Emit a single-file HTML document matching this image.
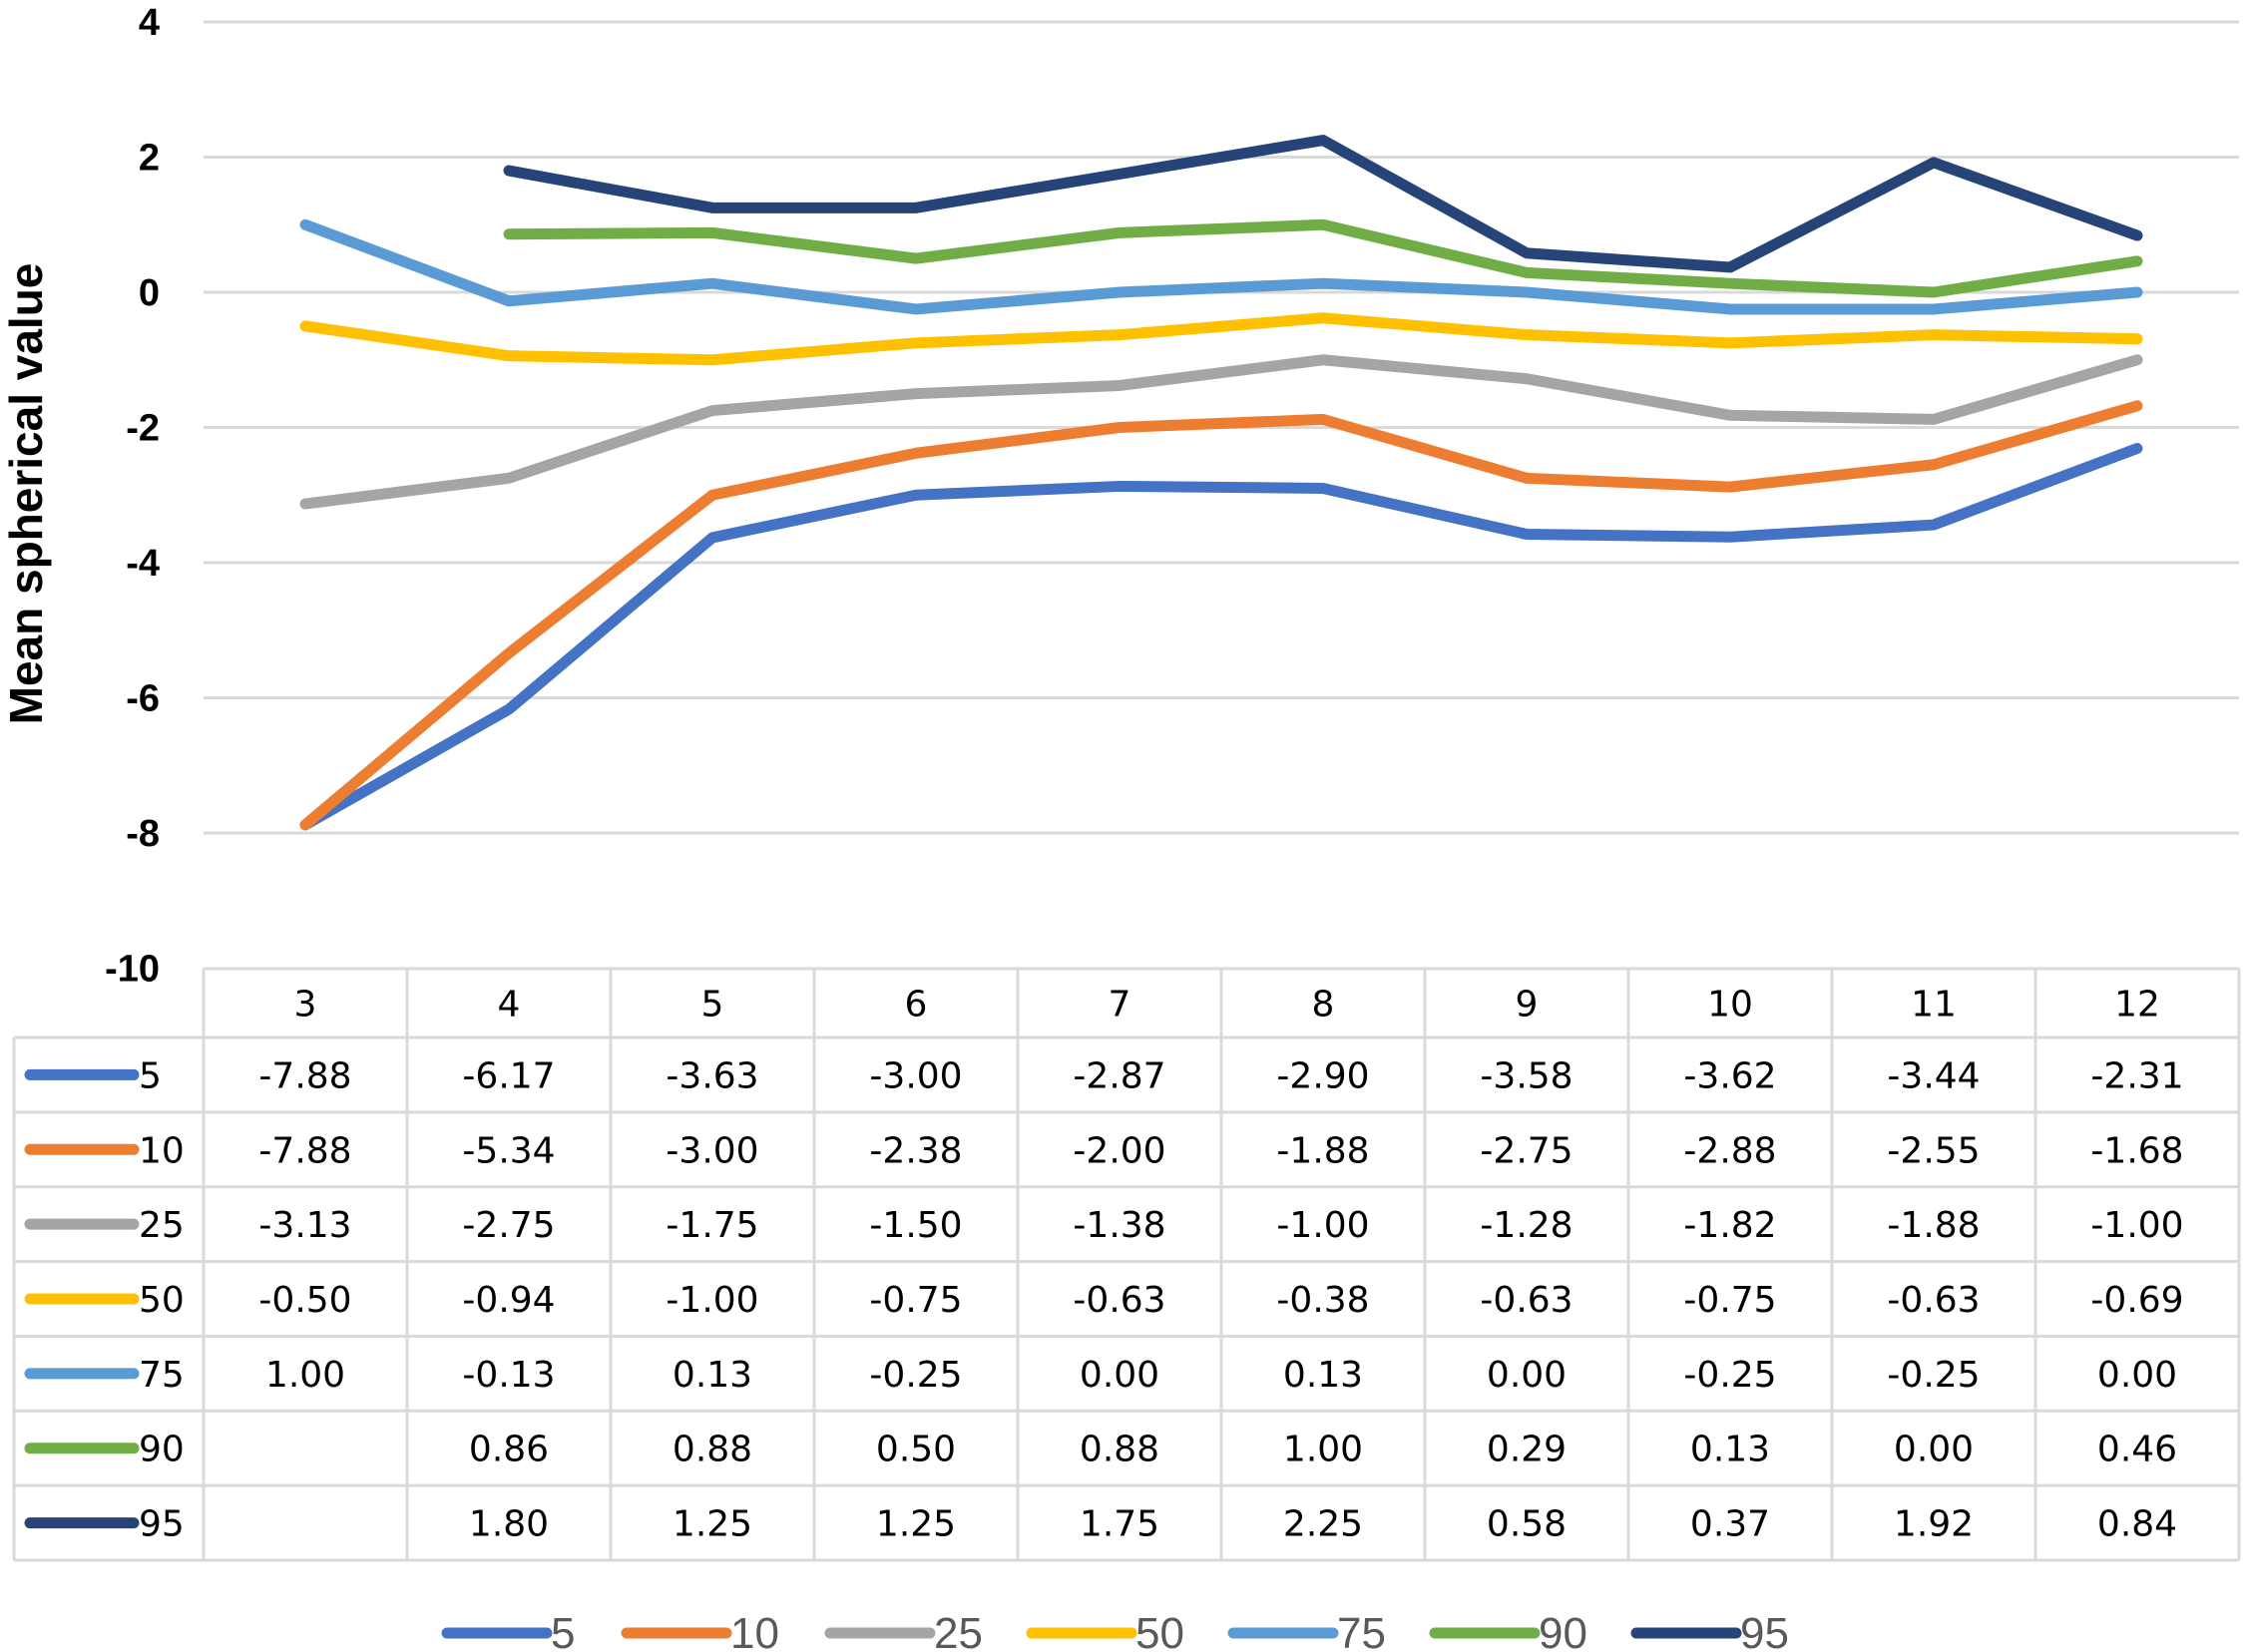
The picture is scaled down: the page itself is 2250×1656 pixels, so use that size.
<!DOCTYPE html>
<html><head><meta charset="utf-8"><style>
html,body{margin:0;padding:0;background:#fff;}
svg{display:block;}
</style></head><body>
<svg id="chart" width="2250" height="1656" viewBox="0 0 2250 1656" xmlns="http://www.w3.org/2000/svg">
<text x="0" y="0" transform="translate(42,495) rotate(-90)" text-anchor="middle" font-family="Liberation Sans, sans-serif" font-weight="bold" font-size="46" fill="#000">Mean spherical value</text>
<g id="grid"></g><g id="ylabels"></g><g id="series"></g><g id="table"></g><g id="legend"></g>
</svg>
<script>
const categories = ["3","4","5","6","7","8","9","10","11","12"];
const seriesNames = ["5","10","25","50","75","90","95"];
const colors = ["#4472C4","#ED7D31","#A5A5A5","#FFC000","#5B9BD5","#70AD47","#264478"];
const s5  = [-7.88,-6.17,-3.63,-3.00,-2.87,-2.90,-3.58,-3.62,-3.44,-2.31];
const s10 = [-7.88,-5.34,-3.00,-2.38,-2.00,-1.88,-2.75,-2.88,-2.55,-1.68];
const s25 = [-3.13,-2.75,-1.75,-1.50,-1.38,-1.00,-1.28,-1.82,-1.88,-1.00];
const s50 = [-0.50,-0.94,-1.00,-0.75,-0.63,-0.38,-0.63,-0.75,-0.63,-0.69];
const s75 = [1.00,-0.13,0.13,-0.25,0.00,0.13,0.00,-0.25,-0.25,0.00];
const s90 = [null,0.86,0.88,0.50,0.88,1.00,0.29,0.13,0.00,0.46];
const s95 = [null,1.80,1.25,1.25,1.75,2.25,0.58,0.37,1.92,0.84];
const yTicks = [4,2,0,-2,-4,-6,-8,-10];
const allSeries = [s5,s10,s25,s50,s75,s90,s95];

const NS="http://www.w3.org/2000/svg";
const colL=204, colW=204, plotR=2244;
function xPos(i){return colL+colW*(i+0.5);}
function yPos(v){return 293-v*67.75;}
function mk(tag,attrs,parent,txt){const e=document.createElementNS(NS,tag);for(const k in attrs)e.setAttribute(k,attrs[k]);if(txt!==undefined)e.textContent=txt;parent.appendChild(e);return e;}

const grid=document.getElementById('grid'), yl=document.getElementById('ylabels');
yTicks.forEach(t=>{
  if(t>-10){
    const l=mk('line',{x1:colL,x2:plotR,y1:yPos(t),y2:yPos(t),stroke:'#d9d9d9','stroke-width':3},grid);
    
    
  }
  const tx=mk('text',{x:160,y:yPos(t)+13,'text-anchor':'end','font-family':'Liberation Sans, sans-serif','font-weight':'bold','font-size':38,fill:'#000'},yl,String(t));
  
  
});

const sg=document.getElementById('series');
allSeries.forEach((s,k)=>{
  let d='';let started=false;
  s.forEach((v,i)=>{if(v===null)return;d+=(started?'L':'M')+xPos(i)+','+yPos(v);started=true;});
  const p=mk('path',{d:d,fill:'none',stroke:colors[k],'stroke-width':11,'stroke-linejoin':'round','stroke-linecap':'round'},sg);
  
  
});

const tb=document.getElementById('table');
const tblTop=971, hdrB=1040, rowH=74.86, tblLeft=14;
const tblBottom=hdrB+rowH*7;
const ff='DejaVu Sans, sans-serif';
function ln(x1,y1,x2,y2){const l=mk('line',{x1:x1,y1:y1,x2:x2,y2:y2,stroke:'#d9d9d9','stroke-width':3},tb);}
ln(colL,tblTop,plotR,tblTop);
for(let r=0;r<=7;r++) ln(tblLeft,hdrB+rowH*r,plotR,hdrB+rowH*r);
ln(tblLeft,hdrB,tblLeft,tblBottom);
for(let c=0;c<=10;c++) ln(colL+colW*c,tblTop,colL+colW*c,tblBottom);
categories.forEach((c,i)=>{
  const t=mk('text',{x:xPos(i),y:(tblTop+hdrB)/2+13,'text-anchor':'middle','font-family':ff,'font-size':36,fill:'#000'},tb,c);
  
  
});
allSeries.forEach((s,k)=>{
  const cy=hdrB+rowH*(k+0.5);
  const kl=mk('line',{x1:30,x2:134,y1:cy,y2:cy,stroke:colors[k],'stroke-width':11,'stroke-linecap':'round'},tb);
  
  
  const lt=mk('text',{x:139,y:cy+13,'font-family':ff,'font-size':36,fill:'#000'},tb,seriesNames[k]);
  
  
  s.forEach((v,i)=>{
    if(v===null)return;
    const t=mk('text',{x:xPos(i),y:cy+13,'text-anchor':'middle','font-family':ff,'font-size':36,fill:'#000'},tb,v.toFixed(2));
    
    
  });
});

const lg=document.getElementById('legend');
const lgX=[442,622,826,1028,1230,1432,1634];
seriesNames.forEach((n,k)=>{
  const g=mk('g',{},lg);
  
  
  mk('line',{x1:lgX[k]+6,x2:lgX[k]+106,y1:1637,y2:1637,stroke:colors[k],'stroke-width':11,'stroke-linecap':'round'},g);
  mk('text',{x:lgX[k]+110,y:1652,'font-family':'Liberation Sans Narrow, Liberation Sans, sans-serif','font-size':44,fill:'#595959'},g,n);
});
</script>
</body></html>
